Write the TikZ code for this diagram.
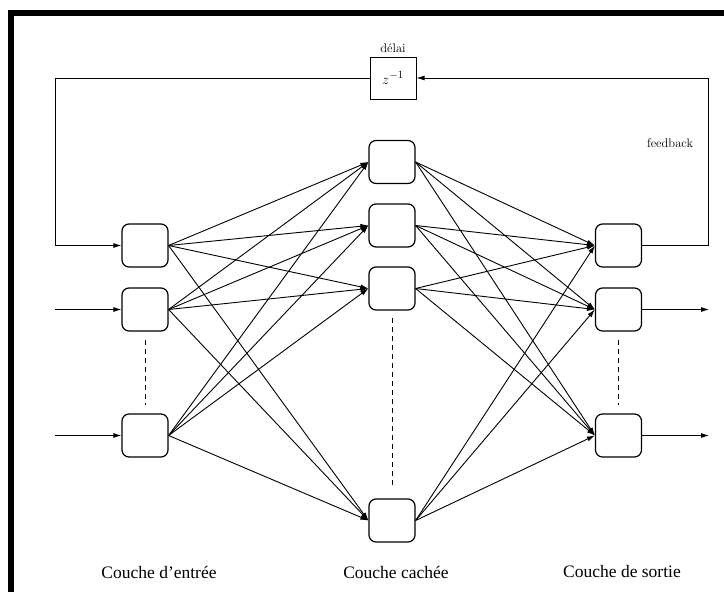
\documentclass[tikz,border=0pt]{standalone}
\usepackage{fontspec}
\newfontfamily\timesfont[Ligatures=TeX]{Liberation Serif}
\usetikzlibrary{arrows.meta}
\begin{document}
\begin{tikzpicture}[x=1pt,y=-1pt,
  neuron/.style={draw, line width=1.2pt, rounded corners=7pt, minimum width=46pt, minimum height=43pt, inner sep=0pt},
  conn/.style={line width=0.9pt, -{Latex[length=8pt,width=5pt]}},
  lab/.style={font=\timesfont\fontsize{17.5}{20}\selectfont},
  small/.style={font=\fontsize{12.5}{14}\selectfont},
  dots/.style={line width=1pt, dash pattern=on 5pt off 4pt}]
\useasboundingbox (0,0) rectangle (724,592);
\fill[white] (0,0) rectangle (724,592);
\begin{scope}
  \clip (0,0) rectangle (724,592);
  \draw[line width=6pt] (11,13) rectangle (760,640);
\end{scope}

% neurons
\node[neuron] (i1) at (145,245.5) {};
\node[neuron] (i2) at (145,309.5) {};
\node[neuron] (i3) at (145,435.5) {};
\node[neuron] (h1) at (392,162) {};
\node[neuron] (h2) at (392,225.5) {};
\node[neuron] (h3) at (392,288.5) {};
\node[neuron] (h4) at (392,520.5) {};
\node[neuron] (o1) at (618.5,245.5) {};
\node[neuron] (o2) at (618.5,309.5) {};
\node[neuron] (o3) at (618.5,435.5) {};

% delay box
\node[draw, line width=1pt, minimum width=46pt, minimum height=42pt, inner sep=0pt, font=\fontsize{15}{17}\selectfont] (d) at (393,78) {$z^{-1}$};
\node[small] (dl) at (393,48) {délai};
\node[small] (fb) at (670,143) {feedback};

% feedback loop
\coordinate (fr) at (708,78);
\coordinate (fl) at (55,78);
\draw[conn] (o1.east) -| (fr) -- (d.east);
\draw[conn] (d.west) -- (fl) |- (i1.west);

% inputs / outputs
\coordinate (in2) at (55,309.5);
\coordinate (in3) at (55,435.5);
\coordinate (out2) at (709,309.5);
\coordinate (out3) at (709,435.5);
\draw[conn] (in2) -- (i2.west);
\draw[conn] (in3) -- (i3.west);
\draw[conn] (o2.east) -- (out2);
\draw[conn] (o3.east) -- (out3);

% connections
\foreach \a in {i1,i2,i3}
  \foreach \b in {h1,h2,h3,h4}
    \draw[conn] (\a.east) -- (\b.west);
\foreach \a in {h1,h2,h3,h4}
  \foreach \b in {o1,o2,o3}
    \draw[conn] (\a.east) -- (\b.west);

% dashed ellipsis lines
\coordinate (ia) at (145,340); \coordinate (ib) at (145,405);
\coordinate (ha) at (392,318); \coordinate (hb) at (392,488);
\coordinate (oa) at (618.5,340); \coordinate (ob) at (618.5,405);
\draw[dots] (ia) -- (ib);
\draw[dots] (ha) -- (hb);
\draw[dots] (oa) -- (ob);

% layer labels
\node[lab] (l1) at (159,572) {Couche d'entrée};
\node[lab] (l2) at (396,572) {Couche cachée};
\node[lab] (l3) at (622,572) {Couche de sortie};
\end{tikzpicture}
\end{document}
